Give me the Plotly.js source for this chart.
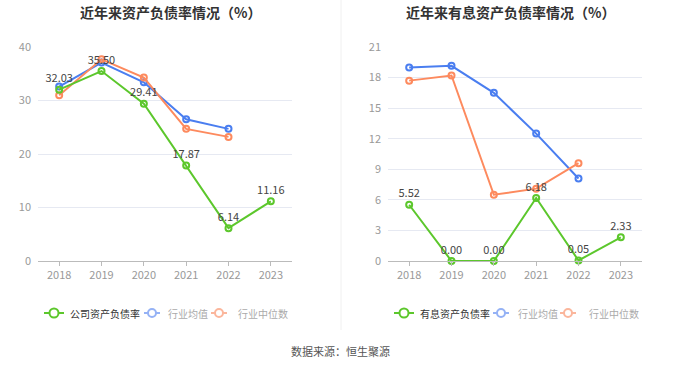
<!DOCTYPE html>
<html>
<head>
<meta charset="utf-8">
<script src="https://cdn.plot.ly/plotly-3.0.1.min.js"></script>
<style>html,body{margin:0;padding:0;background:#fff;}#chart{width:680px;height:367px;}</style>
</head>
<body>
<div id="chart"></div>
<script>
const years = ['2018', '2019', '2020', '2021', '2022', '2023'];
const companyDebt = [32.03, 35.50, 29.41, 17.87, 6.14, 11.16];
const industryAvgDebt = [32.6, 37.1, 33.4, 26.5, 24.7, null];
const industryMedDebt = [31.0, 37.7, 34.3, 24.7, 23.2, null];
const companyIB = [5.52, 0.00, 0.00, 6.18, 0.05, 2.33];
const industryAvgIB = [19.0, 19.15, 16.5, 12.5, 8.1, null];
const industryMedIB = [17.7, 18.2, 6.5, 7.1, 9.6, null];
const leftTicks = [0, 10, 20, 30, 40];
const rightTicks = [0, 3, 6, 9, 12, 15, 18, 21];
const leftLegendNames = ['公司资产负债率', '行业均值', '行业中位数'];
const rightLegendNames = ['有息资产负债率', '行业均值', '行业中位数'];

const W = 680, H = 367;
const GREEN = '#5cc72c', BLUE = '#4a7ef0', ORANGE = '#fd8a5e';
const BLUE_L = '#95b2f5', ORANGE_L = '#fbb69c';
const font = '"Noto Sans CJK SC", "Noto Sans", sans-serif';

function line(y, color, xa, ya, withText) {
  const t = {
    x: years, y: y, type: 'scatter', mode: withText ? 'lines+markers+text' : 'lines+markers',
    xaxis: xa, yaxis: ya, showlegend: false,
    line: {color: color, width: 2},
    marker: {symbol: 'circle-open', size: 6, color: color, line: {width: 2, color: color}},
    cliponaxis: false, hoverinfo: 'skip'
  };
  if (withText) {
    t.text = y.map(v => v.toFixed(2));
    t.textposition = 'top center';
    t.textfont = {size: 11, color: '#444', family: font};
  }
  return t;
}

const data = [
  line(industryAvgDebt, BLUE, 'x', 'y', false),
  line(industryMedDebt, ORANGE, 'x', 'y', false),
  line(companyDebt, GREEN, 'x', 'y', true),
  line(industryAvgIB, BLUE, 'x2', 'y2', false),
  line(industryMedIB, ORANGE, 'x2', 'y2', false),
  line(companyIB, GREEN, 'x2', 'y2', true)
];

const xBase = {
  type: 'category', range: [-0.5, years.length - 0.5], showgrid: false, zeroline: false,
  showline: true, linecolor: '#bbb', linewidth: 1,
  ticks: 'outside', ticklen: 4, tickcolor: '#bbb',
  tickfont: {size: 11, color: '#999', family: font}, fixedrange: true, automargin: false
};
const yBase = {
  showgrid: true, gridcolor: '#e6e9f2', gridwidth: 1, zeroline: false,
  showline: false, ticks: '', tickfont: {size: 11, color: '#999', family: font},
  ticklabelstandoff: 6, fixedrange: true, automargin: false
};

const px = v => v / W;
const py = v => 1 - v / H;

const shapes = [
  {type: 'line', xref: 'paper', yref: 'paper', x0: px(341), x1: px(341), y0: py(330), y1: 1,
   line: {color: '#f0f0f0', width: 1}}
];
const annotations = [
  {text: '<b>近年来资产负债率情况（%）</b>', x: px(170), y: py(12), xref: 'paper', yref: 'paper',
   showarrow: false, xanchor: 'center', yanchor: 'middle', font: {size: 14, color: '#333', family: font}},
  {text: '<b>近年来有息资产负债率情况（%）</b>', x: px(510), y: py(12), xref: 'paper', yref: 'paper',
   showarrow: false, xanchor: 'center', yanchor: 'middle', font: {size: 14, color: '#333', family: font}},
  {text: '数据来源：恒生聚源', x: 0.5, y: py(351), xref: 'paper', yref: 'paper',
   showarrow: false, xanchor: 'center', yanchor: 'middle', font: {size: 11, color: '#555', family: font}}
];

function legendItem(cx, tx, name, color, textColor, big) {
  const ly = 313;
  const half = big ? 10 : 8;
  const r = big ? 4.5 : 4;
  shapes.push({type: 'line', xref: 'paper', yref: 'paper', x0: px(cx - half), x1: px(cx + half), y0: py(ly), y1: py(ly),
    line: {color: color, width: 2}});
  shapes.push({type: 'circle', xref: 'paper', yref: 'paper', x0: px(cx - r), x1: px(cx + r), y0: py(ly + r), y1: py(ly - r),
    fillcolor: '#fff', line: {color: color, width: 2}});
  annotations.push({text: name, x: px(tx), y: py(ly), xref: 'paper', yref: 'paper', showarrow: false,
    xanchor: 'left', yanchor: 'middle', font: {size: 10, color: textColor, family: font}});
}
legendItem(54, 68, leftLegendNames[0], GREEN, '#333', true);
legendItem(152, 166, leftLegendNames[1], BLUE_L, '#aaa', false);
legendItem(219, 236, leftLegendNames[2], ORANGE_L, '#aaa', false);
legendItem(404, 418, rightLegendNames[0], GREEN, '#333', true);
legendItem(501, 516, rightLegendNames[1], BLUE_L, '#aaa', false);
legendItem(568, 587, rightLegendNames[2], ORANGE_L, '#aaa', false);

const layout = {
  width: W, height: H,
  margin: {l: 0, r: 0, t: 0, b: 0},
  paper_bgcolor: '#fff', plot_bgcolor: '#fff',
  showlegend: false,
  xaxis: Object.assign({}, xBase, {domain: [px(38), px(292)], anchor: 'y'}),
  yaxis: Object.assign({}, yBase, {domain: [py(261), py(47)], range: [0, 40], tickvals: leftTicks, anchor: 'x'}),
  xaxis2: Object.assign({}, xBase, {domain: [px(388), px(642)], anchor: 'y2'}),
  yaxis2: Object.assign({}, yBase, {domain: [py(261), py(47)], range: [0, 21], tickvals: rightTicks, anchor: 'x2'}),
  annotations: annotations,
  shapes: shapes
};

Plotly.newPlot('chart', data, layout, {displayModeBar: false, staticPlot: true});
</script>
</body>
</html>
